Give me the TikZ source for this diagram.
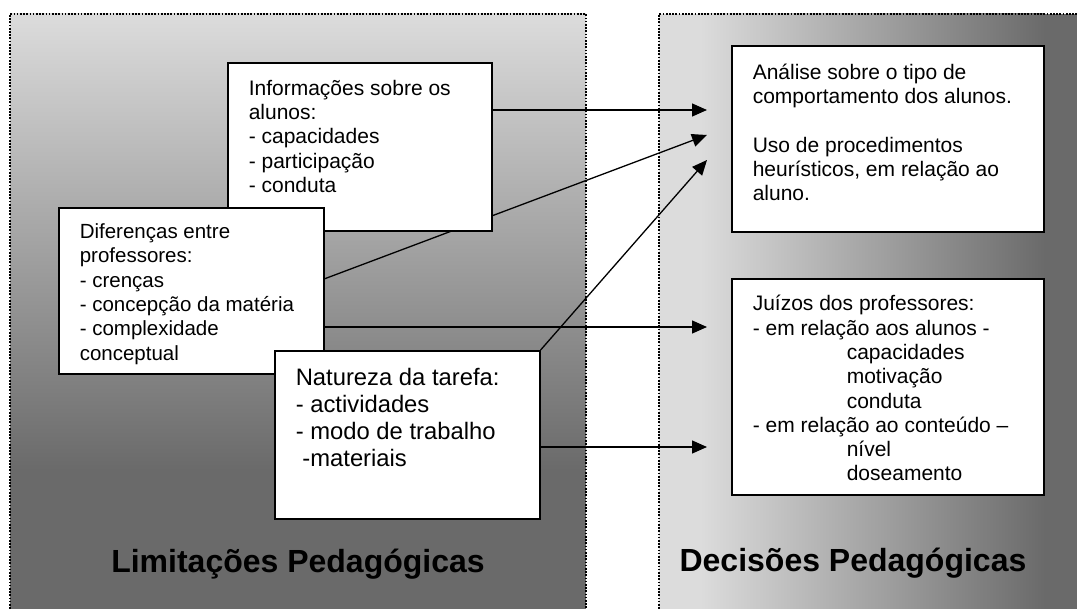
\documentclass[tikz,border=0pt]{standalone}
\usepackage{fontspec}
\setmainfont{Liberation Sans}
\usepackage{tikz}
\usetikzlibrary{positioning}
\usetikzlibrary{arrows.meta}
\usetikzlibrary{calc}
\definecolor{mylight}{RGB}{220,220,220}
\definecolor{mydark}{RGB}{106,106,106}
\pgfdeclarelayer{panels}
\pgfdeclarelayer{links}
\pgfsetlayers{panels,links,main}
% box text: width, height, top gap, rows
\newcommand{\boxtxt}[4]{\parbox[c][#2][t]{#1}{\vspace*{#3}\hspace*{21pt}\begin{tabular}{@{}l@{}}#4\end{tabular}}}
\newcommand{\tabind}{\hspace*{94pt}}

\begin{document}
\begin{tikzpicture}[x=1pt,y=-1pt]
	\useasboundingbox (0,0) rectangle (1077,609);

	\begin{pgfonlayer}{panels}
	    \shade[top color=mylight, bottom color=mydark] (10,14) rectangle (586,470);
	    \fill[mydark] (10,469) rectangle (586,612);
	    \fill[mylight] (659,14) rectangle (701,612);
	    \shade[left color=mylight, right color=mydark] (700,14) rectangle (1045,612);
	    \fill[mydark] (1044,14) rectangle (1080,612);
	    \begin{scope}[line width=1.8pt, dash pattern=on 1.7pt off 1.5pt]
	        \draw (10,612) -- (10,14) -- (586,14) -- (586,612);
	        \draw (659,612) -- (659,14) -- (1080,14);
	    \end{scope}
	\end{pgfonlayer}

	\begin{scope}[every node/.style={draw, fill=white, line width=1.6pt, anchor=north west,
	              inner sep=0pt, font=\fontsize{21}{24.3}\selectfont}]
	    \node (info) at (227,62) {\boxtxt{264pt}{168pt}{15.3pt}{Informações sobre os\\alunos:\\- capacidades\\- participação\\- conduta}};
	    \node (dif) [font=\fontsize{20.5}{24.3}\selectfont] at (58,207) {\boxtxt{265pt}{166pt}{13.7pt}{Diferenças entre\\professores:\\- crenças\\- concepção da matéria\\- complexidade\\conceptual}};
	    \node (nat) [font=\fontsize{23.8}{27}\selectfont] at (274,350) {\boxtxt{265pt}{168pt}{15.8pt}{Natureza da tarefa:\\- actividades\\- modo de trabalho\\\hspace*{6.6pt}-materiais}};
	    \node (anal) at (731,45) {\boxtxt{312pt}{186pt}{16.3pt}{Análise sobre o tipo de\\comportamento dos alunos.\\ \\Uso de procedimentos\\heurísticos, em relação ao\\aluno.}};
	    \node (juiz) at (731,278) {\boxtxt{312pt}{216pt}{15pt}{Juízos dos professores:\\- em relação aos alunos -\\\tabind capacidades\\\tabind motivação\\\tabind conduta\\- em relação ao conteúdo –\\\tabind nível\\\tabind doseamento}};
	\end{scope}

	\begin{scope}[every node/.style={anchor=base, font=\fontsize{32}{38}\selectfont\bfseries}]
	    \node (limit) at (298,572) {Limitações Pedagógicas};
	    \node (decis) at (853,571) {Decisões Pedagógicas};
	\end{scope}

	\coordinate (t1) at (707,110);
	\coordinate (t2) at (707,135);
	\coordinate (t3) at (707,160);
	\coordinate (t4) at (707,327);
	\coordinate (t5) at (707,447);

	\begin{pgfonlayer}{links}
	\begin{scope}[>={Triangle[length=15pt,width=13pt]},
	              every edge/.style={draw=black, line width=1.3pt}]
    	\path [->] (info.east |- t1) edge (t1);
    	\path [->] ([yshift=12pt]dif.east) edge (t2);
    	\path [->] (nat.north east) edge (t3);
    	\path [->] (dif.east |- t4) edge (t4);
    	\path [->] (nat.east |- t5) edge (t5);
	\end{scope}
	\end{pgfonlayer}
\end{tikzpicture}
\end{document}
